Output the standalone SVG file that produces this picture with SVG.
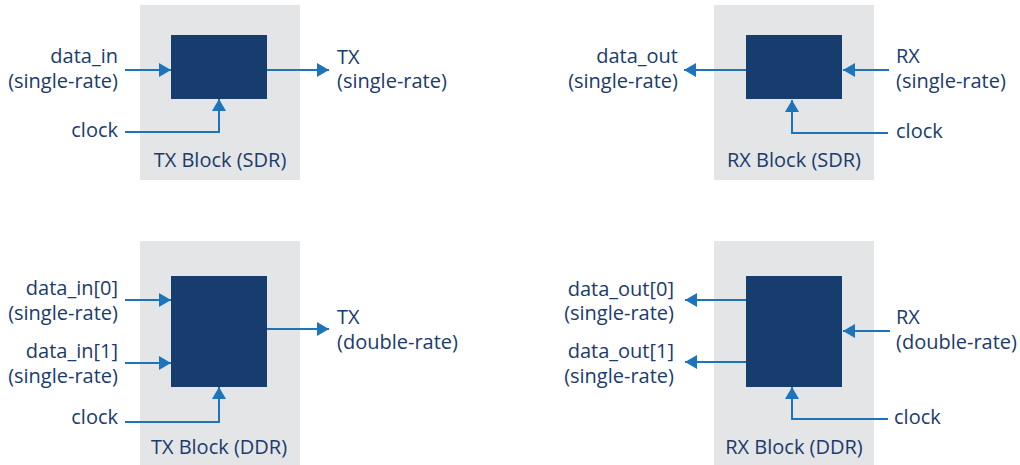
<svg xmlns="http://www.w3.org/2000/svg" width="1020" height="465" viewBox="0 0 1020 465">
<style>
.bg{fill:#e4e5e7}
.blk{fill:#173d6e}
.w{fill:none;stroke:#1d74bb;stroke-width:2}
text{font-family:"Open Sans","Noto Sans",sans-serif;font-size:20px;fill:#1b3b6b}
.r{text-anchor:end}
.m{text-anchor:middle}
</style>
<defs>
<marker id="ah" markerUnits="userSpaceOnUse" markerWidth="13" markerHeight="15" refX="12" refY="7" orient="auto">
<path d="M0,0 L12,7 L0,14 Z" fill="#1d74bb"/>
</marker>
</defs>
<g id="tx-sdr">
<rect class="bg" x="140" y="5" width="160" height="175"/>
<rect class="blk" x="171" y="35" width="96" height="64"/>
<text class="r" x="118" y="63">data_in</text>
<text class="r" x="118" y="88">(single-rate)</text>
<text class="r" x="118" y="137">clock</text>
<text x="337" y="64">TX</text>
<text x="337" y="88">(single-rate)</text>
<text class="m" x="220" y="167">TX Block (SDR)</text>
</g>
<g id="rx-sdr">
<rect class="bg" x="714" y="5" width="160" height="175"/>
<rect class="blk" x="746" y="35" width="96" height="64"/>
<text class="r" x="678" y="63">data_out</text>
<text class="r" x="678" y="88">(single-rate)</text>
<text x="896" y="63">RX</text>
<text x="896" y="88">(single-rate)</text>
<text x="896" y="138">clock</text>
<text class="m" x="794" y="167">RX Block (SDR)</text>
</g>
<g id="tx-ddr">
<rect class="bg" x="140" y="241" width="160" height="224"/>
<rect class="blk" x="171" y="276" width="96" height="111"/>
<text class="r" x="118" y="295">data_in[0]</text>
<text class="r" x="118" y="320">(single-rate)</text>
<text class="r" x="118" y="358">data_in[1]</text>
<text class="r" x="118" y="383">(single-rate)</text>
<text class="r" x="118" y="424">clock</text>
<text x="337" y="324">TX</text>
<text x="337" y="349">(double-rate)</text>
<text class="m" x="219" y="454">TX Block (DDR)</text>
</g>
<g id="rx-ddr">
<rect class="bg" x="714" y="241" width="160" height="224"/>
<rect class="blk" x="746" y="276" width="96" height="111"/>
<text class="r" x="674" y="296">data_out[0]</text>
<text class="r" x="674" y="320">(single-rate)</text>
<text class="r" x="674" y="358">data_out[1]</text>
<text class="r" x="674" y="383">(single-rate)</text>
<text x="896" y="324">RX</text>
<text x="896" y="349">(double-rate)</text>
<text x="894" y="424">clock</text>
<text class="m" x="794" y="454">RX Block (DDR)</text>
</g>
<g id="connectors">
<path class="w" d="M125,70 H171" marker-end="url(#ah)"/>
<path class="w" d="M267,70 H329" marker-end="url(#ah)"/>
<path class="w" d="M125,132 H219 V99" marker-end="url(#ah)"/>
<path class="w" d="M746,70 H684" marker-end="url(#ah)"/>
<path class="w" d="M889,70 H843" marker-end="url(#ah)"/>
<path class="w" d="M888,133 H792 V100" marker-end="url(#ah)"/>
<path class="w" d="M125,300 H171" marker-end="url(#ah)"/>
<path class="w" d="M125,363 H171" marker-end="url(#ah)"/>
<path class="w" d="M267,329 H329" marker-end="url(#ah)"/>
<path class="w" d="M125,422 H219 V387" marker-end="url(#ah)"/>
<path class="w" d="M746,300 H685" marker-end="url(#ah)"/>
<path class="w" d="M746,362 H685" marker-end="url(#ah)"/>
<path class="w" d="M890,331 H843" marker-end="url(#ah)"/>
<path class="w" d="M888,419 H792 V387" marker-end="url(#ah)"/>
</g>
</svg>
